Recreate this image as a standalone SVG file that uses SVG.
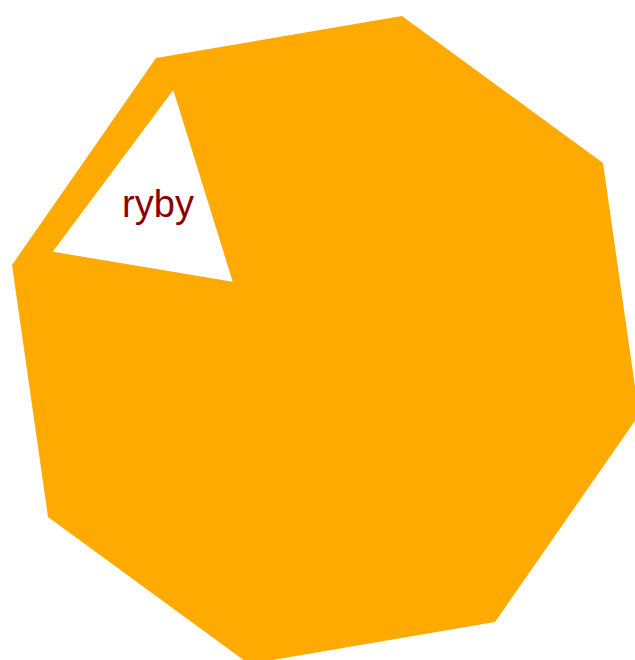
<svg xmlns="http://www.w3.org/2000/svg" width="635" height="660" viewBox="0 0 635 660">
<style>
.oct{fill:#ffaa00}
.tri{fill:#ffffff}
.lbl{font-family:"Liberation Sans",Arial,sans-serif;font-size:38px;fill:#8b0000;text-anchor:middle}
</style>
<rect width="635" height="660" fill="#ffffff"/>
<g id="octagon">
<polygon class="oct" points="156,58 402,16 603,163 639,415 495,622 249,664 48,517 12,265"/>
</g>
<g id="ryby">
<polygon class="tri" points="173.3,90 52.7,251.7 232.7,281.7"/>
<text class="lbl" x="158" y="217.3">ryby</text>
</g>
<g id="connectors"></g>
</svg>
